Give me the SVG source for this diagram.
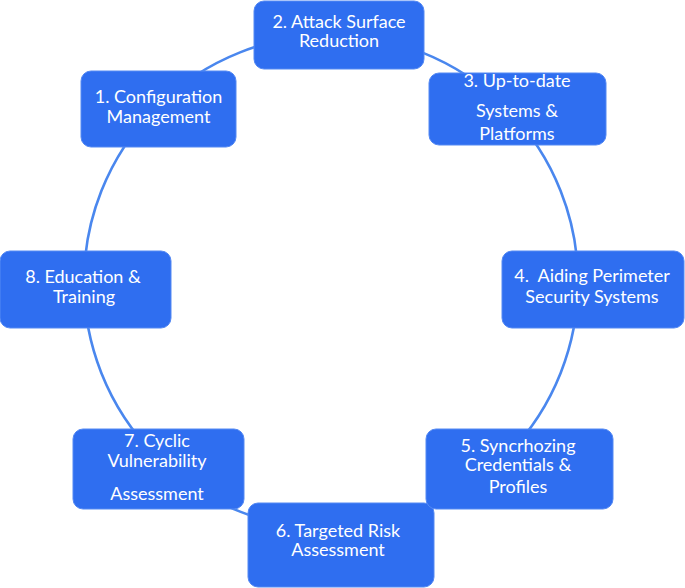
<svg xmlns="http://www.w3.org/2000/svg" width="685" height="588" viewBox="0 0 685 588">
<style>
.box{fill:#2f6ef0;stroke:#5489f3;stroke-width:1}
.t{font-family:Lato,"Open Sans",sans-serif;font-size:18px;fill:#ffffff;text-anchor:middle}
.c{fill:none;stroke:#4a87ee;stroke-width:2.6}
</style>
<rect width="685" height="588" fill="#ffffff"/>
<g id="connectors">
<circle class="c" cx="331" cy="282" r="247"/>
</g>
<g id="n2"><rect class="box" x="254" y="1" width="170" height="68" rx="10"/>
<text class="t" x="339" y="28">2. Attack Surface</text><text class="t" x="339" y="47">Reduction</text></g>
<g id="n1"><rect class="box" x="81" y="71" width="155" height="76" rx="10"/>
<text class="t" x="158.5" y="103">1. Configuration</text><text class="t" x="158.5" y="123">Management</text></g>
<g id="n3"><rect class="box" x="429" y="73" width="177" height="72" rx="10"/>
<text class="t" x="517" y="87">3. Up-to-date</text><text class="t" x="517" y="117">Systems &amp;</text><text class="t" x="517" y="140">Platforms</text></g>
<g id="n4"><rect class="box" x="502" y="251" width="182" height="77" rx="10"/>
<text class="t" x="592" y="282" xml:space="preserve">4.  Aiding Perimeter</text><text class="t" x="592" y="303">Security Systems</text></g>
<g id="n8"><rect class="box" x="0" y="251" width="171" height="77" rx="10"/>
<text class="t" x="83" y="283">8. Education &amp;</text><text class="t" x="84" y="303">Training</text></g>
<g id="n7"><rect class="box" x="73" y="429" width="171" height="80" rx="10"/>
<text class="t" x="157" y="447">7. Cyclic</text><text class="t" x="157" y="467">Vulnerability</text><text class="t" x="157" y="500">Assessment</text></g>
<g id="n6"><rect class="box" x="248" y="503" width="186" height="84" rx="10"/>
<text class="t" x="338" y="537">6. Targeted Risk</text><text class="t" x="338" y="556">Assessment</text></g>
<g id="n5"><rect class="box" x="426" y="429" width="187" height="80" rx="10"/>
<text class="t" x="518" y="452">5. Syncrhozing</text><text class="t" x="518" y="471">Credentials &amp;</text><text class="t" x="518" y="493">Profiles</text></g>
</svg>
